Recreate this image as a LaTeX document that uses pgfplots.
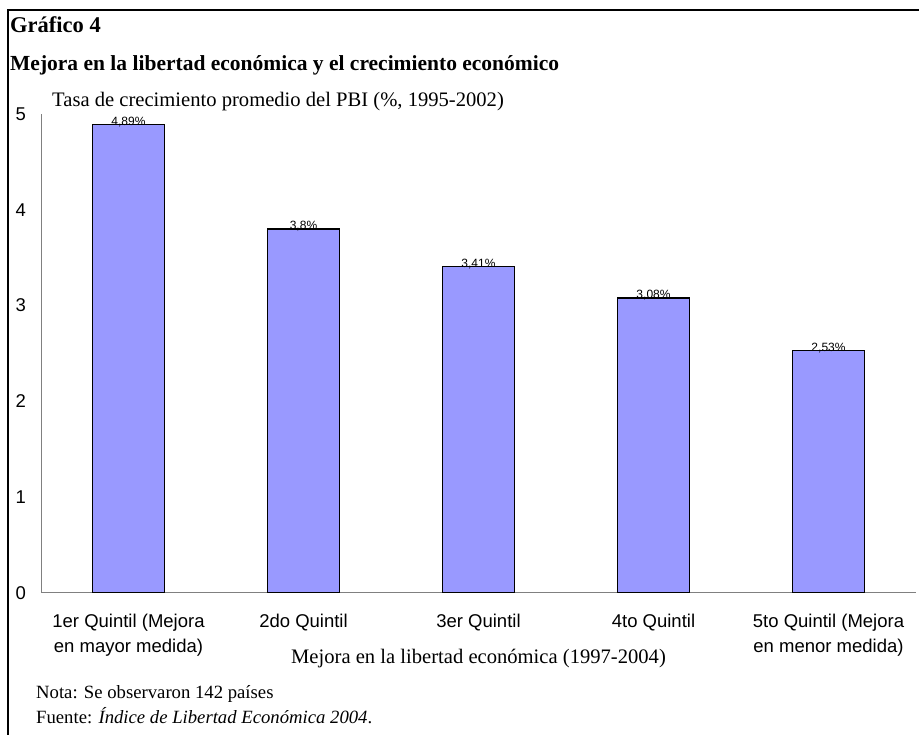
\documentclass[border=0pt]{standalone}
\usepackage{fontspec}
\setmainfont{Liberation Serif}
\newfontfamily\arial{Liberation Sans}
\usepackage{pgfplots}
\pgfplotsset{compat=1.18}
\definecolor{barfill}{HTML}{9999FF}
\definecolor{axisgray}{HTML}{808080}

\begin{document}
\begin{tikzpicture}
\useasboundingbox (0pt,0pt) rectangle (919pt,735pt);
% frame (left and top only)
\draw[line width=1.5pt] (8pt,0pt) -- (8pt,725pt) -- (919pt,725pt);
% titles
\node[anchor=base west, inner sep=0, font=\fontsize{22.5}{26}\selectfont\bfseries] at (10pt,702pt) {Gráfico 4};
\node[anchor=base west, inner sep=0, font=\fontsize{21.5}{26}\selectfont\bfseries] at (10pt,664pt) {Mejora en la libertad económica y el crecimiento económico};
\node[anchor=base west, inner sep=0, font=\fontsize{20.6}{24}\selectfont] at (52pt,628pt) {Tasa de crecimiento promedio del PBI (\%, 1995-2002)};

\begin{axis}[
    anchor=south west, at={(41pt,142pt)},
    scale only axis, width=875pt, height=479pt,
    xmin=-0.5, xmax=4.5, ymin=0, ymax=5,
    axis x line*=bottom, axis y line*=left,
    axis line style={axisgray, line width=1pt, -},
    ybar, bar width=72pt,
    xtick={0,1,2,3,4}, ytick={0,1,2,3,4,5},
    major tick length=0pt,
    /pgf/number format/assume math mode=true,
    xticklabels={{1er Quintil (Mejora\\en mayor medida)}, 2do Quintil, 3er Quintil, 4to Quintil, {5to Quintil (Mejora\\en menor medida)}},
    xticklabel style={font=\arial\fontsize{18.5}{25}\selectfont, align=center, anchor=north, inner sep=0pt, yshift=-21pt},
    yticklabel style={font=\arial\fontsize{18.5}{22}\selectfont, anchor=east, inner sep=0pt, xshift=-15pt},
    nodes near coords={\pgfmathprintnumber[use comma, fixed, precision=2]{\pgfplotspointmeta}\%},
    every node near coord/.append style={font=\arial\fontsize{12}{14}\selectfont, anchor=base, inner sep=0pt, yshift=-1pt, black},
    point meta=y,
]
\addplot[fill=barfill, draw=black, line width=1.6pt] coordinates {
    (0, 4.89)
    (1, 3.80)
    (2, 3.41)
    (3, 3.08)
    (4, 2.53)
};
\end{axis}

\node[anchor=base, inner sep=0, font=\fontsize{20.6}{24}\selectfont] at (478.5pt,71pt) {Mejora en la libertad económica (1997-2004)};
\node[anchor=base west, inner sep=0, font=\fontsize{18.7}{22}\selectfont] at (36pt,36pt) {Nota: Se observaron 142 países};
\node[anchor=base west, inner sep=0, font=\fontsize{18.7}{22}\selectfont] at (36pt,11pt) {Fuente: \textit{Índice de Libertad Económica 2004}.};
\end{tikzpicture}
\end{document}
